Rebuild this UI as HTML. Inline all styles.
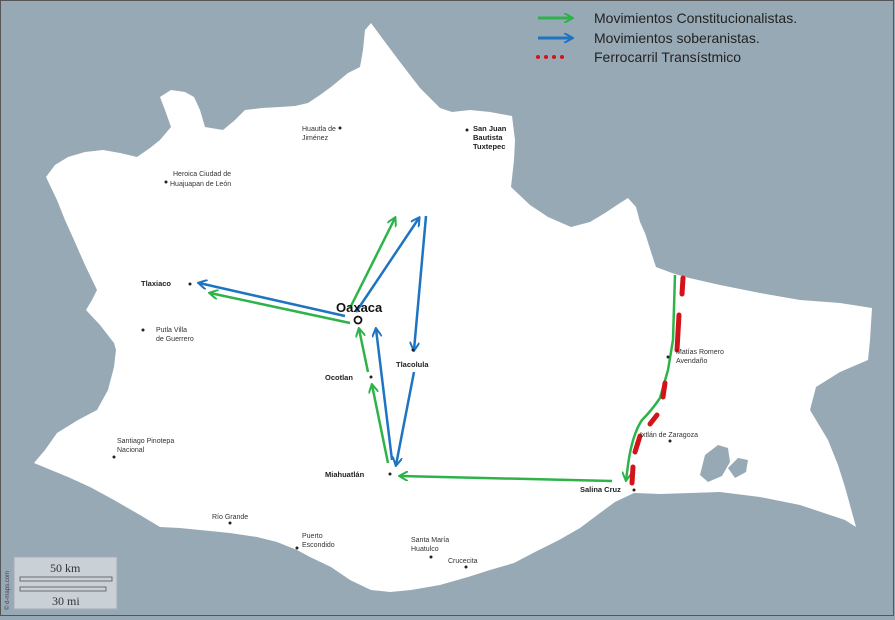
<!DOCTYPE html>
<html><head><meta charset="utf-8"><style>
html,body{margin:0;padding:0;background:#fff}
svg{display:block}
text{font-family:"Liberation Sans",sans-serif}
text.serif{font-family:"Liberation Serif",serif}
</style></head><body>
<svg width="895" height="620" viewBox="0 0 895 620" xmlns="http://www.w3.org/2000/svg">
<defs>
<marker id="ag" markerWidth="10" markerHeight="10" refX="8" refY="5" orient="auto" markerUnits="userSpaceOnUse"><path d="M0,0 L9,5 L0,10" fill="none" stroke="#2db34a" stroke-width="2"/></marker>
<marker id="ab" markerWidth="10" markerHeight="10" refX="8" refY="5" orient="auto" markerUnits="userSpaceOnUse"><path d="M0,0 L9,5 L0,10" fill="none" stroke="#1f74c2" stroke-width="2"/></marker>
</defs>
<rect x="0" y="0" width="895" height="620" fill="#98a9b6"/>
<rect x="0.5" y="0.5" width="893" height="615" fill="none" stroke="#555" stroke-width="1"/>
<path fill="#fff" d="M371,23 L385,42 L400,62 L420,88 L440,108 L452,112 L470,110 L490,112 L512,116 L515,140 L514,160 L511,187 L530,205 L548,217 L571,227 L590,222 L605,213 L620,203 L628,198 L636,207 L640,222 L645,233 L652,255 L656,267 L672,273 L685,277 L720,285 L760,293 L800,300 L840,303 L872,308 L870,340 L868,360 L840,372 L816,387 L810,410 L828,440 L838,465 L845,487 L856,527 L845,520 L800,505 L760,497 L720,492 L690,493 L660,494 L634,493 L615,502 L600,513 L580,528 L559,540 L535,552 L514,563 L490,570 L468,577 L440,585 L411,590 L390,592 L371,590 L350,580 L331,567 L310,557 L297,550 L277,542 L257,537 L230,533 L200,530 L180,528 L160,527 L140,515 L114,500 L90,487 L68,477 L34,463 L45,450 L57,433 L78,420 L97,410 L108,390 L114,367 L116,350 L114,343 L100,325 L86,310 L92,300 L97,290 L85,265 L74,240 L65,220 L57,200 L46,177 L55,165 L68,157 L85,152 L103,150 L120,153 L137,157 L150,148 L160,140 L171,127 L165,110 L160,97 L171,90 L185,92 L194,97 L200,110 L205,127 L223,130 L235,120 L245,110 L262,108 L280,107 L295,106 L308,103 L320,95 L331,87 L348,73 L360,67 L363,50 L365,30 Z"/>
<path fill="#98a9b6" d="M700,475 L705,455 L718,445 L728,448 L730,462 L722,476 L708,482 Z"/>
<path fill="#98a9b6" d="M728,468 L738,458 L748,460 L746,472 L735,478 Z"/>
<rect x="14" y="557" width="103" height="52" fill="#c9d0d6" stroke="#aab" />
<text class="serif" x="50" y="572" font-size="12" fill="#333">50 km</text>
<rect x="20" y="577" width="92" height="4" fill="none" stroke="#555" stroke-width="0.8"/>
<rect x="20" y="587" width="86" height="4" fill="none" stroke="#555" stroke-width="0.8"/>
<text class="serif" x="52" y="605" font-size="12" fill="#333">30 mi</text>
<text x="9" y="610" font-size="6" fill="#445" transform="rotate(-90 9 610)">© d-maps.com</text>
<g fill="none" stroke-width="2.5">
<line x1="350" y1="323" x2="210" y2="293" stroke="#2db34a" marker-end="url(#ag)"/>
<line x1="345" y1="316" x2="199" y2="283" stroke="#1f74c2" marker-end="url(#ab)"/>
<line x1="350" y1="308" x2="395" y2="218" stroke="#2db34a" marker-end="url(#ag)"/>
<line x1="356" y1="312" x2="419" y2="218" stroke="#1f74c2" marker-end="url(#ab)"/>
<line x1="426" y1="216" x2="414" y2="350" stroke="#1f74c2" marker-end="url(#ab)"/>
<line x1="414" y1="372" x2="396" y2="465" stroke="#1f74c2" marker-end="url(#ab)"/>
<line x1="388" y1="463" x2="372" y2="385" stroke="#2db34a" marker-end="url(#ag)"/>
<line x1="368" y1="372" x2="359" y2="329" stroke="#2db34a" marker-end="url(#ag)"/>
<line x1="392" y1="460" x2="376" y2="329" stroke="#1f74c2" marker-end="url(#ab)"/>
<line x1="612" y1="481" x2="400" y2="476" stroke="#2db34a" marker-end="url(#ag)"/>
<path d="M675,275 L673,340 L668,370 L660,398 Q652,410 642,420 Q632,435 628,465 L626,480" stroke="#2db34a" marker-end="url(#ag)"/>
</g>
<g stroke="#d4121a" stroke-width="5" stroke-linecap="round" fill="none">
<line x1="683" y1="278" x2="682" y2="294"/>
<line x1="679" y1="315" x2="677" y2="350"/>
<line x1="665" y1="383" x2="663" y2="397"/>
<line x1="657" y1="415" x2="650" y2="424"/>
<line x1="640" y1="436" x2="635" y2="452"/>
<line x1="633" y1="467" x2="632" y2="483"/>
</g>
<g fill="#222">
<circle cx="340" cy="128" r="1.5"/><circle cx="467" cy="130" r="1.5"/><circle cx="166" cy="182" r="1.5"/>
<circle cx="190" cy="284" r="1.5"/><circle cx="143" cy="330" r="1.5"/><circle cx="413" cy="350" r="1.5"/>
<circle cx="371" cy="377" r="1.5"/><circle cx="390" cy="474" r="1.5"/><circle cx="114" cy="457" r="1.5"/>
<circle cx="668" cy="357" r="1.5"/><circle cx="670" cy="441" r="1.5"/><circle cx="634" cy="490" r="1.5"/>
<circle cx="230" cy="523" r="1.5"/><circle cx="297" cy="548" r="1.5"/><circle cx="431" cy="557" r="1.5"/><circle cx="466" cy="567" r="1.5"/>
</g>
<circle cx="358" cy="320" r="3.5" fill="#fff" stroke="#111" stroke-width="1.8"/>
<g fill="#333" font-size="7">
<text x="302" y="131">Huautla de</text><text x="302" y="140">Jiménez</text>
<text x="173" y="176">Heroica Ciudad de</text><text x="170" y="186">Huajuapan de León</text>
<text x="156" y="332">Putla Villa</text><text x="156" y="341">de Guerrero</text>
<text x="117" y="443">Santiago Pinotepa</text><text x="117" y="452">Nacional</text>
<text x="676" y="354">Matías Romero</text><text x="676" y="363">Avendaño</text>
<text x="640" y="437">Ixtlán de Zaragoza</text>
<text x="212" y="519">Río Grande</text>
<text x="302" y="538">Puerto</text><text x="302" y="547">Escondido</text>
<text x="411" y="542">Santa María</text><text x="411" y="551">Huatulco</text>
<text x="448" y="563">Crucecita</text>
</g>
<g fill="#222" font-size="7.5" font-weight="bold">
<text x="473" y="131">San Juan</text><text x="473" y="140">Bautista</text><text x="473" y="149">Tuxtepec</text>
<text x="141" y="286">Tlaxiaco</text>
<text x="396" y="367">Tlacolula</text>
<text x="325" y="380">Ocotlan</text>
<text x="325" y="477">Miahuatlán</text>
<text x="580" y="492">Salina Cruz</text>
</g>
<text x="336" y="312" font-size="13" font-weight="bold" fill="#111">Oaxaca</text>
<g stroke-width="3" fill="none">
<line x1="538" y1="18" x2="572" y2="18" stroke="#2db34a" marker-end="url(#ag)"/>
<line x1="538" y1="38" x2="572" y2="38" stroke="#1f74c2" marker-end="url(#ab)"/>
</g>
<g fill="#d4121a"><circle cx="538" cy="57" r="2"/><circle cx="546" cy="57" r="2"/><circle cx="554" cy="57" r="2"/><circle cx="562" cy="57" r="2"/></g>
<g fill="#222" font-size="14">
<text x="594" y="23">Movimientos  Constitucionalistas.</text>
<text x="594" y="43">Movimientos  soberanistas.</text>
<text x="594" y="62">Ferrocarril  Transístmico</text>
</g>
</svg>
</body></html>
